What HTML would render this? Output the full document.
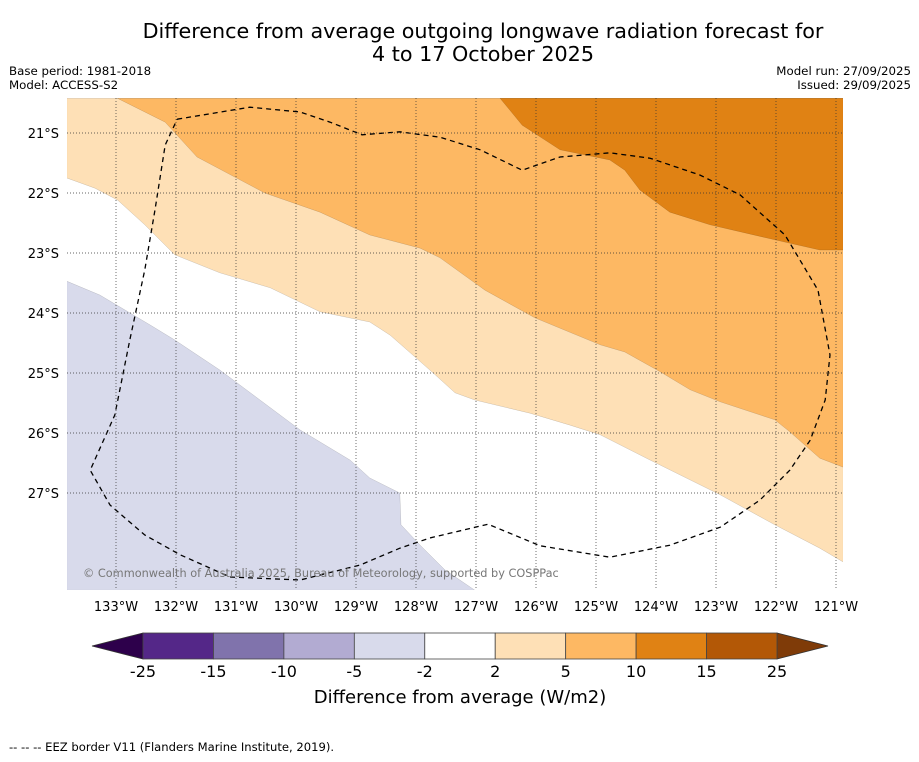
<!DOCTYPE html>
<html><head><meta charset="utf-8"><style>
body{margin:0;background:#fff;font-family:"DejaVu Sans","Liberation Sans",sans-serif;}
svg text{font-family:"DejaVu Sans","Liberation Sans",sans-serif;}
</style></head><body>
<svg id="chart" width="919" height="758" xmlns="http://www.w3.org/2000/svg">
<rect width="919" height="758" fill="#fff"/>
<text x="483" y="38" font-size="20.7" text-anchor="middle">Difference from average outgoing longwave radiation forecast for</text>
<text x="483" y="61" font-size="20.7" text-anchor="middle">4 to 17 October 2025</text>
<text x="9" y="75" font-size="11.8">Base period: 1981-2018</text>
<text x="9" y="89" font-size="11.8">Model: ACCESS-S2</text>
<text x="911" y="75" font-size="11.8" text-anchor="end">Model run: 27/09/2025</text>
<text x="911" y="89" font-size="11.8" text-anchor="end">Issued: 29/09/2025</text>
<defs><clipPath id="mapclip"><rect x="67" y="98" width="776" height="492"/></clipPath></defs>
<g id="map" clip-path="url(#mapclip)"></g>
<g id="axes"></g>
<g id="cbar"></g>
<text x="460" y="703" font-size="18" text-anchor="middle">Difference from average (W/m2)</text>
<text x="9" y="751" font-size="11.6">--  --  -- EEZ border V11 (Flanders Marine Institute, 2019).</text>
</svg>
<script>
const lonTicks=[133,132,131,130,129,128,127,126,125,124,123,122,121];
const latTicks=[21,22,23,24,25,26,27];
const cbBounds=[-25,-15,-10,-5,-2,2,5,10,15,25];
const cbColors=["#542788","#8073ac","#b2abd2","#d8daeb","#ffffff","#fee0b6","#fdb863","#e08214","#b35806"];
const cbExtLow="#2d004b", cbExtHigh="#7f3b08";
// contour boundaries [lonW, latS]
const lavenderEdge=[[133.82,23.47],[133.27,23.70],[132.43,24.20],[132.02,24.45],[131.27,24.95],[130.60,25.45],[129.93,25.95],[129.10,26.45],[128.77,26.75],[128.27,27.00],[128.25,27.53],[127.93,27.87],[127.52,28.28],[127.02,28.62]];
const lightOrangeEdge=[[133.82,21.75],[133.35,21.92],[132.97,22.12],[132.52,22.53],[132.02,23.03],[131.27,23.33],[130.43,23.58],[129.60,23.98],[128.77,24.15],[128.43,24.37],[128.02,24.73],[127.68,25.03],[127.35,25.33],[127.02,25.45],[126.10,25.67],[125.43,25.87],[124.93,26.03],[124.10,26.45],[122.93,27.03],[122.02,27.53],[121.27,27.92],[120.88,28.15]];
const orangeEdge=[[132.98,20.42],[132.18,20.82],[131.65,21.40],[130.52,22.00],[129.60,22.32],[128.77,22.70],[127.93,22.92],[127.60,23.08],[126.85,23.62],[126.02,24.08],[124.93,24.53],[124.52,24.65],[123.93,24.98],[123.43,25.28],[122.93,25.48],[122.02,25.78],[121.77,25.98],[121.27,26.42],[120.88,26.57]];
const darkOrangeEdge=[[126.60,20.42],[126.23,20.87],[125.60,21.28],[124.77,21.45],[124.52,21.62],[124.27,21.95],[123.77,22.32],[123.10,22.53],[122.02,22.78],[121.27,22.95],[120.88,22.95]];
const eezBorder=[[131.98,20.77],[130.77,20.57],[129.93,20.65],[129.43,20.82],[128.90,21.03],[128.27,20.98],[127.60,21.07],[126.93,21.28],[126.23,21.62],[125.60,21.40],[124.77,21.33],[124.10,21.42],[123.27,21.70],[122.60,22.03],[121.85,22.70],[121.30,23.62],[121.10,24.70],[121.18,25.45],[121.43,26.12],[121.77,26.62],[122.27,27.12],[122.93,27.57],[123.77,27.87],[124.77,28.07],[125.93,27.88],[126.80,27.52],[127.77,27.75],[128.27,27.92],[128.93,28.20],[129.93,28.45],[131.10,28.40],[131.93,28.03],[132.52,27.70],[133.10,27.20],[133.43,26.62],[133.02,25.70],[132.77,24.45],[132.52,23.28],[132.35,22.28],[132.18,21.20],[131.98,20.77]];
const LONMAX=133.82,LONMIN=120.88,LATMIN=20.42,LATMAX=28.62;
const NS="http://www.w3.org/2000/svg";
function X(lon){return 116+(133-lon)*60;}
function Y(lat){return 133+(lat-21)*60;}
function mk(tag,attrs,parent){const e=document.createElementNS(NS,tag);for(const k in attrs)e.setAttribute(k,attrs[k]);parent.appendChild(e);return e;}
function pts(arr){return arr.map(p=>X(p[0]).toFixed(1)+","+Y(p[1]).toFixed(1)).join(" ");}
const map=document.getElementById("map");
let r=mk("rect",{x:67,y:98,width:776,height:492,fill:"#fff"},map);


function region(edge,extra,color,name){
  const p=mk("polygon",{points:pts(edge.concat(extra)),fill:color,stroke:"rgba(0,0,0,0.2)","stroke-width":0.5},map);
  
  
}
region(lavenderEdge,[[LONMAX,LATMAX]],cbColors[3],"region-minus5-to-minus2");
region(lightOrangeEdge,[[LONMIN,LATMIN],[LONMAX,LATMIN]],cbColors[5],"region-2-to-5");
region(orangeEdge,[[LONMIN,LATMIN]],cbColors[6],"region-5-to-10");
region(darkOrangeEdge,[[LONMIN,LATMIN]],cbColors[7],"region-10-to-15");
const axes=document.getElementById("axes");
lonTicks.forEach(l=>{
  const g=mk("line",{x1:X(l),x2:X(l),y1:98,y2:590,stroke:"#333","stroke-width":0.7,"stroke-dasharray":"1,2"},axes);
  
  
  const t=mk("text",{x:X(l),y:611,"font-size":13,"text-anchor":"middle"},axes);t.textContent=l+"°W";
  
  
});
latTicks.forEach(l=>{
  const g=mk("line",{x1:67,x2:843,y1:Y(l),y2:Y(l),stroke:"#333","stroke-width":0.7,"stroke-dasharray":"1,2"},axes);
  
  
  const t=mk("text",{x:59,y:Y(l)+5,"font-size":13,"text-anchor":"end"},axes);t.textContent=l+"°S";
  
  
});
const eez=mk("polyline",{points:pts(eezBorder),fill:"none",stroke:"#000","stroke-width":1.3,"stroke-dasharray":"5,4"},map);


const cr=mk("text",{x:83,y:577,"font-size":11.3,fill:"#777"},axes);cr.textContent="© Commonwealth of Australia 2025, Bureau of Meteorology, supported by COSPPac";


// colorbar
const cb=document.getElementById("cbar");
const cx0=143,cx1=777,cy0=633,cy1=659,n=cbColors.length,sw=(cx1-cx0)/n;
let ext=mk("polygon",{points:`${cx0},${cy0} ${cx0},${cy1} 92,646`,fill:cbExtLow,stroke:"#333","stroke-width":0.8},cb);


ext=mk("polygon",{points:`${cx1},${cy0} ${cx1},${cy1} 828,646`,fill:cbExtHigh,stroke:"#333","stroke-width":0.8},cb);


cbColors.forEach((c,i)=>{
  const s=mk("rect",{x:cx0+i*sw,y:cy0,width:sw,height:cy1-cy0,fill:c,stroke:"#444","stroke-width":0.8},cb);
  
  
});
cbBounds.forEach((b,i)=>{
  const t=mk("text",{x:cx0+i*sw,y:677,"font-size":16,"text-anchor":"middle"},cb);t.textContent=b;
  
  
});
</script>
</body></html>
